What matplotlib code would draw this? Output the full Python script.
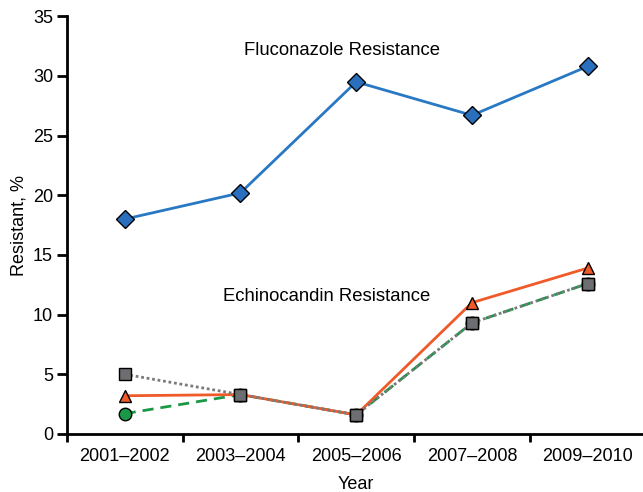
import matplotlib.pyplot as plt

plt.rcParams['font.family'] = ['Liberation Sans', 'DejaVu Sans']

years = ["2001–2002", "2003–2004", "2005–2006", "2007–2008", "2009–2010"]
fluconazole = [18.0, 20.2, 29.5, 26.7, 30.8]
echino_triangle = [3.2, 3.3, 1.6, 11.0, 13.9]
echino_square = [5.0, 3.3, 1.6, 9.3, 12.6]
echino_circle = [1.7, 3.3, 1.6, 9.3, 12.6]

x = list(range(len(years)))

fig = plt.figure(figsize=(6.43, 4.92), dpi=100)
ax = fig.add_axes([0.104, 0.118, 0.9, 0.849])

ax.plot(x, fluconazole, color="#2878c4", lw=2, marker="D", ms=9,
        mfc="#2a6fbd", mec="black", mew=1, zorder=3)
ax.plot(x, echino_circle, color="#1a9848", lw=2, ls=(0, (4, 2.5)), marker="o", ms=9,
        mfc="#1a9848", mec="black", mew=1, zorder=3)
ax.plot(x, echino_square, color="#7a7a7a", lw=2, ls=(0, (1, 1)), marker="s", ms=9,
        mfc="#6d6e71", mec="black", mew=1, zorder=4)
ax.plot(x, echino_triangle, color="#f05a28", lw=2, marker="^", ms=8.5,
        mfc="#f05a28", mec="black", mew=1, zorder=3)
# squares sit on top where the series overlap
ax.plot(x[1:], echino_square[1:], ls="none", marker="s", ms=9,
        mfc="#6d6e71", mec="black", mew=1, zorder=5)

ax.text(1.88, 32.1, "Fluconazole Resistance", ha="center", va="center", fontsize=13.3)
ax.text(1.74, 11.5, "Echinocandin Resistance", ha="center", va="center", fontsize=13.3)

ax.set_xlim(-0.5, 4.5)
ax.set_ylim(0, 35)
ax.set_yticks(range(0, 36, 5))
ax.set_xticks([i - 0.5 for i in x])
ax.set_xticklabels([])
ax.set_xticks(x, minor=True)
ax.set_xticklabels(years, minor=True)
ax.tick_params(axis="x", which="minor", length=0, pad=10, labelsize=13)
ax.tick_params(axis="x", which="major", length=6, width=2)
ax.tick_params(axis="y", length=7, width=2, labelsize=13, pad=3)

for s in ["top", "right"]:
    ax.spines[s].set_visible(False)
ax.spines["left"].set_linewidth(2)
ax.spines["bottom"].set_linewidth(2)

ax.set_xlabel("Year", fontsize=13, labelpad=8)
ax.set_ylabel("Resistant, %", fontsize=13, labelpad=4)

fig.savefig("out.png", dpi=100)
